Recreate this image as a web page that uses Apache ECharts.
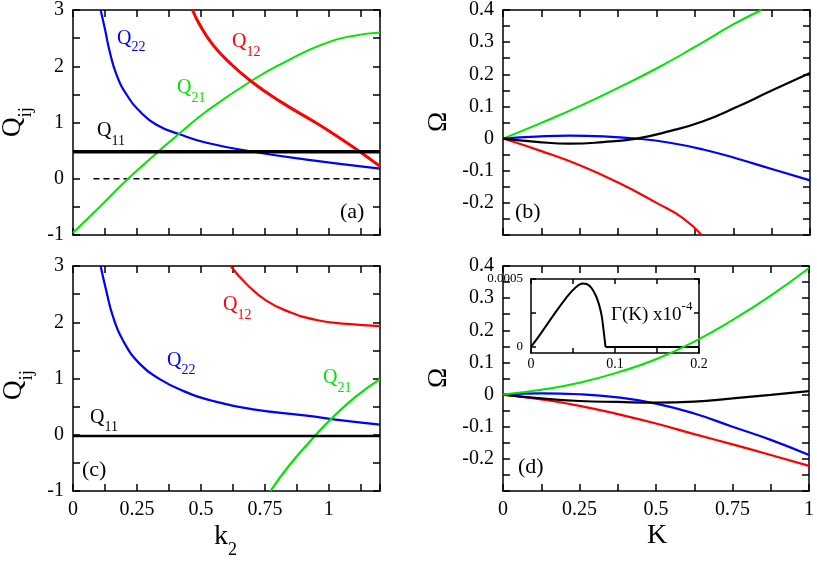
<!DOCTYPE html>
<html>
<head>
<meta charset="utf-8">
<script src="https://cdn.jsdelivr.net/npm/echarts@6/dist/echarts.min.js"></script>
<style>
  html, body { margin: 0; padding: 0; background: #fff; }
  #main { width: 817px; height: 561px; }
</style>
</head>
<body>
<div id="main"></div>
<script>
// 面板 (a): Q_ij(k2)
const kA11 = [0, 1.2];
const qA11 = [0.48, 0.48];
const kA0 = [0.08, 1.2];
const qA0 = [0, 0];
const kA22 = [0.108, 0.124, 0.143, 0.170, 0.209, 0.261, 0.326, 0.417, 0.522, 0.704, 0.913, 1.2];
const qA22 = [3, 2.68, 2.27, 1.85, 1.50, 1.20, 0.96, 0.79, 0.64, 0.48, 0.34, 0.18];
const kA21 = [0, 0.1, 0.215, 0.333, 0.417, 0.522, 0.704, 0.835, 0.965, 1.083, 1.2];
const qA21 = [-0.96, -0.52, 0, 0.48, 0.81, 1.20, 1.76, 2.09, 2.37, 2.53, 2.60];
const kA12 = [0.467, 0.495, 0.547, 0.613, 0.697, 0.808, 0.951, 1.017, 1.109, 1.2];
const qA12 = [3, 2.74, 2.38, 2.06, 1.73, 1.38, 0.99, 0.80, 0.52, 0.22];

// 面板 (b): Omega(K)
const kB = [0, 0.109, 0.217, 0.326, 0.435, 0.543, 0.652, 0.761, 0.870, 1.0];
const wBblack = [0, -0.010, -0.016, -0.011, 0, 0.023, 0.054, 0.098, 0.147, 0.204];
const wBblue = [0, 0.006, 0.009, 0.007, 0, -0.013, -0.034, -0.062, -0.093, -0.130];
const kBgreen = [0, 0.125, 0.25, 0.375, 0.5, 0.625, 0.75, 0.842];
const wBgreen = [0, 0.049, 0.101, 0.158, 0.218, 0.285, 0.355, 0.40];
const kBred = [0, 0.125, 0.25, 0.375, 0.5, 0.587, 0.647];
const wBred = [0, -0.039, -0.083, -0.137, -0.200, -0.248, -0.30];

// 面板 (c)
const kC11 = [0, 1.2];
const qC11 = [-0.02, -0.02];
const kC22 = [0.108, 0.130, 0.157, 0.196, 0.261, 0.339, 0.430, 0.548, 0.704, 0.913, 1.043, 1.2];
const qC22 = [3, 2.56, 2.09, 1.67, 1.26, 0.99, 0.78, 0.60, 0.45, 0.34, 0.26, 0.18];
const kC12 = [0.616, 0.678, 0.757, 0.848, 0.952, 1.07, 1.2];
const qC12 = [3, 2.68, 2.38, 2.18, 2.04, 1.97, 1.93];
const kC21 = [0.772, 0.848, 0.952, 1.011, 1.109, 1.2];
const qC21 = [-1, -0.53, 0.01, 0.29, 0.69, 0.99];

// 面板 (d)
const kD = [0, 0.125, 0.25, 0.375, 0.5, 0.625, 0.75, 0.875, 1];
const wDgreen = [0, 0.015, 0.037, 0.069, 0.110, 0.165, 0.232, 0.308, 0.394];
const wDblack = [0, -0.012, -0.020, -0.023, -0.025, -0.022, -0.012, -0.001, 0.011];
const wDblue = [0, 0.004, 0.001, -0.009, -0.028, -0.059, -0.100, -0.141, -0.188];
const wDred = [0, -0.015, -0.035, -0.061, -0.090, -0.123, -0.155, -0.188, -0.222];

// 插图: Gamma(K)，上升段与平直段
const kIn = [0, 0.0099, 0.0258, 0.0417, 0.0537, 0.0616, 0.0696, 0.0775, 0.0835, 0.0863, 0.0887];
const gIn = [0, 0.0000833, 0.000225, 0.00036, 0.000441, 0.000466, 0.000451, 0.000373, 0.00025, 0.000127, 0];
const kInFlat = [0.0887, 0.2];
const gInFlat = [0, 0];
const inYTicks = [0, 0.00025, 0.0005];
const inYLabels = [0, 0.0005];

const FONT = 'Liberation Serif';
const BLUE = '#0000ff', RED = '#ff0000', GREEN = '#00e400', BLACK = '#000000';

let chart = echarts.init(document.getElementById('main'));

function pts(xs, ys){
    return xs.map((x, i) => [x, ys[i]]);
}

function fmtK(v){
    let r = Math.round(v * 1000);
    return r % 250 === 0 ? String(r / 1000) : '';
}
function fmtQ(v){
    let r = Math.round(v * 10);
    return r % 10 === 0 ? String(r / 10) : '';
}
function fmtW(v){
    let r = Math.round(v * 100);
    return (r % 10 === 0 && r !== -30) ? String(r / 100) : '';
}
function fmtIn(v){
    let r = Math.round(v * 100);
    return r % 10 === 0 ? String(r / 100) : '';
}

const lineSt = { color: '#000', width: 1.5 };

function xAx(g, pos, min, max, interval, fmt, tickLen, fontSize){
    return {
        type: 'value', gridIndex: g, position: pos,
        min: min, max: max, interval: interval,
        axisLine: { show: true, onZero: false, lineStyle: lineSt },
        axisTick: { show: true, inside: true, length: tickLen, lineStyle: lineSt },
        axisLabel: {
            show: !!fmt, formatter: fmt || undefined, margin: tickLen > 5 ? 9 : 4,
            color: '#000', fontFamily: FONT, fontSize: fontSize || 20
        },
        splitLine: { show: false }
    };
}
function yAx(g, pos, min, max, interval, fmt, tickLen, fontSize){
    let a = xAx(g, pos, min, max, interval, fmt, tickLen, fontSize);
    a.axisLabel.margin = tickLen > 5 ? 9 : 10;
    return a;
}

let xAxis = [], yAxis = [];
// a
xAxis.push(xAx(0, 'bottom', 0, 1.2, 0.125, null, 7));
xAxis.push(xAx(0, 'top', 0, 1.2, 0.125, null, 7));
yAxis.push(yAx(0, 'left', -1, 3, 0.5, fmtQ, 7));
yAxis.push(yAx(0, 'right', -1, 3, 0.5, null, 7));
// b
xAxis.push(xAx(1, 'bottom', 0, 1, 0.125, null, 7));
xAxis.push(xAx(1, 'top', 0, 1, 0.125, null, 7));
yAxis.push(yAx(1, 'left', -0.3, 0.4, 0.05, fmtW, 7));
yAxis.push(yAx(1, 'right', -0.3, 0.4, 0.05, null, 7));
// c
xAxis.push(xAx(2, 'bottom', 0, 1.2, 0.125, fmtK, 7));
xAxis.push(xAx(2, 'top', 0, 1.2, 0.125, null, 7));
yAxis.push(yAx(2, 'left', -1, 3, 0.5, fmtQ, 7));
yAxis.push(yAx(2, 'right', -1, 3, 0.5, null, 7));
// d
xAxis.push(xAx(3, 'bottom', 0, 1, 0.125, fmtK, 7));
xAxis.push(xAx(3, 'top', 0, 1, 0.125, null, 7));
yAxis.push(yAx(3, 'left', -0.3, 0.4, 0.05, fmtW, 7));
yAxis.push(yAx(3, 'right', -0.3, 0.4, 0.05, null, 7));
// inset
xAxis.push(xAx(4, 'bottom', 0, 0.2, 0.05, fmtIn, 5, 14));
xAxis.push(xAx(4, 'top', 0, 0.2, 0.05, null, 5));
yAxis.push({
    type: 'value', gridIndex: 4, position: 'left', min: -0.000045, max: 0.0005,
    axisLine: { show: true, onZero: false, lineStyle: lineSt },
    axisTick: { show: true, inside: true, length: 5, lineStyle: lineSt, customValues: inYTicks },
    axisLabel: {
        show: true, customValues: inYLabels, margin: 8,
        formatter: v => (v === 0 ? '0' : '0.0005'),
        color: '#000', fontFamily: FONT, fontSize: 13
    },
    splitLine: { show: false }
});
yAxis.push({
    type: 'value', gridIndex: 4, position: 'right', min: -0.000045, max: 0.0005,
    axisLine: { show: true, onZero: false, lineStyle: lineSt },
    axisTick: { show: true, inside: true, length: 5, lineStyle: lineSt, customValues: inYTicks },
    axisLabel: { show: false },
    splitLine: { show: false }
});

function line(g, xs, ys, color, width, dash, smooth){
    return {
        type: 'line', xAxisIndex: 2 * g, yAxisIndex: 2 * g,
        data: pts(xs, ys), symbol: 'none',
        smooth: smooth === undefined ? 0.5 : smooth,
        lineStyle: { color: color, width: width, type: dash || 'solid' },
        silent: true, animation: false
    };
}

let series = [
    line(0, kA0, qA0, BLACK, 1.3, [6, 4], false),
    line(0, kA22, qA22, BLUE, 2.2),
    line(0, kA21, qA21, GREEN, 2),
    line(0, kA12, qA12, RED, 3),
    line(0, kA11, qA11, BLACK, 3.5, null, false),

    line(1, kBgreen, wBgreen, GREEN, 2),
    line(1, kBred, wBred, RED, 2.2),
    line(1, kB, wBblue, BLUE, 2.2),
    line(1, kB, wBblack, BLACK, 2.2),

    line(2, kC22, qC22, BLUE, 2.2),
    line(2, kC12, qC12, RED, 2.2),
    line(2, kC21, qC21, GREEN, 2.2),
    line(2, kC11, qC11, BLACK, 2.5, null, false),

    line(3, kD, wDred, RED, 2.2),
    line(3, kD, wDblue, BLUE, 2.2),
    line(3, kD, wDblack, BLACK, 2.2),

    line(4, kIn, gIn, BLACK, 2, null, 0.4),
    line(4, kInFlat, gInFlat, BLACK, 2, null, false),
    line(3, kD, wDgreen, GREEN, 2)
];

// 文字宽度
let ctx = document.createElement('canvas').getContext('2d');
function tw(text, size){
    ctx.font = size + 'px "' + FONT + '"';
    return ctx.measureText(text).width;
}
function txt(x, y, text, color, size, align){
    return {
        type: 'text', x: x, y: y, silent: true,
        style: {
            text: text, fill: color, font: size + 'px "' + FONT + '"',
            align: align || 'left', verticalAlign: 'middle',
            textAlign: align || 'left', textVerticalAlign: 'middle'
        }
    };
}
// 主字 + 下标/上标
function subLabel(x, y, main, s, color, size, sSize, dy, rot){
    return {
        type: 'group', x: x, y: y, rotation: rot || 0, silent: true,
        children: [
            txt(0, 0, main, color, size),
            txt(tw(main, size), dy, s, color, sSize)
        ]
    };
}
function omega(y){
    return { type: 'text', x: 439, y: y, rotation: Math.PI / 2, silent: true,
        style: { text: 'Ω', fill: BLACK, font: '27px "' + FONT + '"', align: 'center', verticalAlign: 'middle',
                 textAlign: 'center', textVerticalAlign: 'middle' } };
}

let graphic = [
    subLabel(117, 39, 'Q', '22', BLUE, 20, 14, 8),
    subLabel(232, 42, 'Q', '12', RED, 20, 14, 10),
    subLabel(177, 88, 'Q', '21', GREEN, 20, 14, 10),
    subLabel(97, 131, 'Q', '11', BLACK, 20, 14, 10),
    txt(340, 212, '(a)', BLACK, 22),
    txt(515, 212, '(b)', BLACK, 22),

    subLabel(223, 305, 'Q', '12', RED, 20, 14, 10),
    subLabel(167, 361, 'Q', '22', BLUE, 20, 14, 9),
    subLabel(323, 378, 'Q', '21', GREEN, 20, 14, 10),
    subLabel(90, 418, 'Q', '11', BLACK, 20, 14, 9),
    txt(82, 470, '(c)', BLACK, 22),
    txt(518, 467, '(d)', BLACK, 22),

    subLabel(13, 137, 'Q', 'ij', BLACK, 27, 19, 13, Math.PI / 2),
    subLabel(14, 400, 'Q', 'ij', BLACK, 27, 19, 13, Math.PI / 2),
    omega(122),
    omega(378),
    subLabel(214, 537, 'k', '2', BLACK, 28, 18, 13),
    txt(657, 536, 'K', BLACK, 28, 'center'),
    subLabel(611, 315, 'Γ(K) x10', '-4', BLACK, 19, 13, -8)
];

let option = {
    backgroundColor: '#fff',
    animation: false,
    grid: [
        { left: 73, top: 10, width: 307, height: 225 },
        { left: 503, top: 10, width: 307, height: 225 },
        { left: 73, top: 266, width: 307, height: 225 },
        { left: 503, top: 266, width: 307, height: 225 },
        { left: 531, top: 279, width: 168, height: 74 }
    ],
    xAxis: xAxis,
    yAxis: yAxis,
    series: series,
    graphic: graphic
};
chart.setOption(option);
window.addEventListener('resize', function(){
    chart.resize();
});
</script>
</body>
</html>
